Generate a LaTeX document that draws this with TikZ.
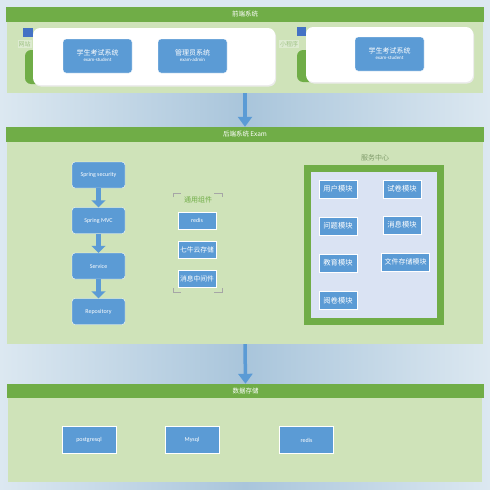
\documentclass[tikz,border=0pt]{standalone}
\usepackage{fontspec}
\setmainfont{Carlito}
\newfontfamily\cjk{Noto Sans CJK SC}
\usetikzlibrary{arrows.meta}
\definecolor{bgedge}{HTML}{DCE8F1}
\definecolor{bgmid}{HTML}{A9C5DB}
\definecolor{hdr}{HTML}{70AD47}
\definecolor{panel}{HTML}{CFE3B9}
\definecolor{bx}{HTML}{5B9BD5}
\definecolor{lav}{HTML}{DAE3F3}
\definecolor{sq}{HTML}{4472C4}
\definecolor{lbl}{HTML}{9FC285}
\definecolor{lblbg}{HTML}{DDEBD0}
\definecolor{arr}{HTML}{5B9BD5}
\begin{document}
\begin{tikzpicture}[x=1pt,y=-1pt,
  panelbody/.style={fill=panel, draw=none, inner sep=0pt},
  header/.style={fill=hdr, draw=none, inner sep=0pt, text=white, font=\cjk\fontsize{6.5}{7}\selectfont, minimum height=15pt},
  rbox/.style={fill=bx, draw=white, line width=0.4pt, rounded corners=3pt, inner sep=0pt, text=white, align=center, font=\fontsize{6}{7}\selectfont},
  sbox/.style={fill=bx, draw=white, line width=0.4pt, inner sep=0pt, text=white, align=center, font=\cjk\fontsize{7.3}{8}\selectfont},
  dbbox/.style={fill=bx, draw=white, line width=0.4pt, inner sep=0pt, text=white, align=center, font=\fontsize{6}{7}\selectfont, minimum width=54pt, minimum height=27pt},
  bigarrow/.style={draw=arr, line width=3.5pt, -{Triangle[width=14pt,length=10pt]}},
  flowarrow/.style={draw=arr, line width=5pt, -{Triangle[width=14pt,length=7pt]}},
  sidelabel/.style={fill=lblbg, text=lbl, inner sep=1pt, font=\cjk\fontsize{6}{7}\selectfont},
  titletext/.style={text=hdr, inner sep=0pt, font=\cjk\fontsize{7}{8}\selectfont},
  bracket/.style={draw=gray!70, line width=0.6pt}
]
\useasboundingbox (0,0) rectangle (490,490);
\shade[left color=bgedge, right color=bgedge, middle color=bgmid] (0,0) rectangle (490,490);
\fill[bgedge] (0,0) rectangle (490,7);

% ---------- top panel ----------
\node[panelbody, minimum width=476pt, minimum height=71pt] (topbody) at (245,57.5) {};
\node[header, minimum width=478pt] (tophead) at (245,14.5) {前端系统};

% left card
\fill[hdr, rounded corners=6pt] (25,50) rectangle (45,84);
\fill[black!8, rounded corners=7pt] (34,29.5) rectangle (276,86.5);
\fill[white, rounded corners=7pt] (33,28) rectangle (275,85);
\fill[sq] (23,28) rectangle (33,37);
\node[sidelabel] (weblbl) at (24.5,44) {网站};
\node[rbox, minimum width=69pt, minimum height=34pt, font=\fontsize{5}{6}\selectfont] (stu1) at (97.5,56)
  {{\cjk\fontsize{7}{8.5}\selectfont 学生考试系统}\\exam-student};
\node[rbox, minimum width=69pt, minimum height=34pt, font=\fontsize{5}{6}\selectfont] (adm) at (192.5,56)
  {{\cjk\fontsize{7}{8.5}\selectfont 管理员系统}\\exam-admin};

% right card
\fill[hdr, rounded corners=6pt] (297,50) rectangle (317,82);
\fill[black!8, rounded corners=7pt] (307,28.5) rectangle (474,83.5);
\fill[white, rounded corners=7pt] (306,27) rectangle (473,82);
\fill[sq] (297,27) rectangle (306,36);
\node[sidelabel] (mplbl) at (289,44) {小程序};
\node[rbox, minimum width=69pt, minimum height=34pt, font=\fontsize{5}{6}\selectfont] (stu2) at (389.5,54)
  {{\cjk\fontsize{7}{8.5}\selectfont 学生考试系统}\\exam-student};

% ---------- middle panel ----------
\node[panelbody, minimum width=476pt, minimum height=202pt] (midbody) at (245,243) {};
\node[header, minimum width=478pt] (midhead) at (245,134.5) {后端系统 Exam};

\draw[bigarrow] (topbody.south) -- (midhead.north);

% spring chain
\node[rbox, minimum width=53pt, minimum height=26pt] (sec) at (98.5,175) {Spring security};
\node[rbox, minimum width=53pt, minimum height=26pt] (mvc) at (98.5,220.5) {Spring MVC};
\node[rbox, minimum width=53pt, minimum height=26pt] (svc) at (98.5,266) {Service};
\node[rbox, minimum width=53pt, minimum height=26pt] (repo) at (98.5,311.5) {Repository};
\draw[flowarrow] (sec.south) -- (mvc.north);
\draw[flowarrow] (mvc.south) -- (svc.north);
\draw[flowarrow] (svc.south) -- (repo.north);

% common components
\draw[bracket] (173,197) -- (173,193) -- (181,193);
\draw[bracket] (214,193) -- (222,193) -- (222,197);
\draw[bracket] (173,288) -- (173,292) -- (181,292);
\draw[bracket] (214,292) -- (222,292) -- (222,288);
\node[titletext] (comtitle) at (198,200) {通用组件};
\node[sbox, minimum width=38pt, minimum height=17pt, font=\fontsize{6}{7}\selectfont] (credis) at (197,220.5) {redis};
\node[sbox, minimum width=38pt, minimum height=17pt, font=\cjk\fontsize{6.8}{8}\selectfont] (qiniu) at (197,249.5) {七牛云存储};
\node[sbox, minimum width=38pt, minimum height=17pt, font=\cjk\fontsize{6.8}{8}\selectfont] (mq) at (197,278.5) {消息中间件};

% service center
\node[titletext, text=lbl!80!black] (svctitle) at (375,157.5) {服务中心};
\node[draw=hdr, line width=7pt, fill=lav, minimum width=133pt, minimum height=153pt, inner sep=0pt] (svcframe) at (374,245) {};
\node[sbox, minimum width=38pt, minimum height=18pt] (m1) at (338,189) {用户模块};
\node[sbox, minimum width=38pt, minimum height=18pt] (m2) at (402,189) {试卷模块};
\node[sbox, minimum width=38pt, minimum height=18pt] (m3) at (338,226) {问题模块};
\node[sbox, minimum width=38pt, minimum height=18pt] (m4) at (402,225) {消息模块};
\node[sbox, minimum width=38pt, minimum height=18pt] (m5) at (338,263) {教育模块};
\node[sbox, minimum width=48pt, minimum height=18pt, font=\cjk\fontsize{7}{8}\selectfont] (m6) at (405.5,262) {文件存储模块};
\node[sbox, minimum width=38pt, minimum height=18pt] (m7) at (338,300.5) {阅卷模块};

% ---------- bottom panel ----------
\node[panelbody, minimum width=474pt, minimum height=84pt] (botbody) at (245,440) {};
\node[header, minimum width=477pt, minimum height=14pt] (bothead) at (245.5,391) {数据存储};

\draw[bigarrow] (midbody.south) -- (bothead.north);

\node[dbbox] (pg) at (89,440) {postgresql};
\node[dbbox] (my) at (192,440) {Mysql};
\node[dbbox] (dredis) at (306.5,440) {redis};
\end{tikzpicture}
\end{document}
